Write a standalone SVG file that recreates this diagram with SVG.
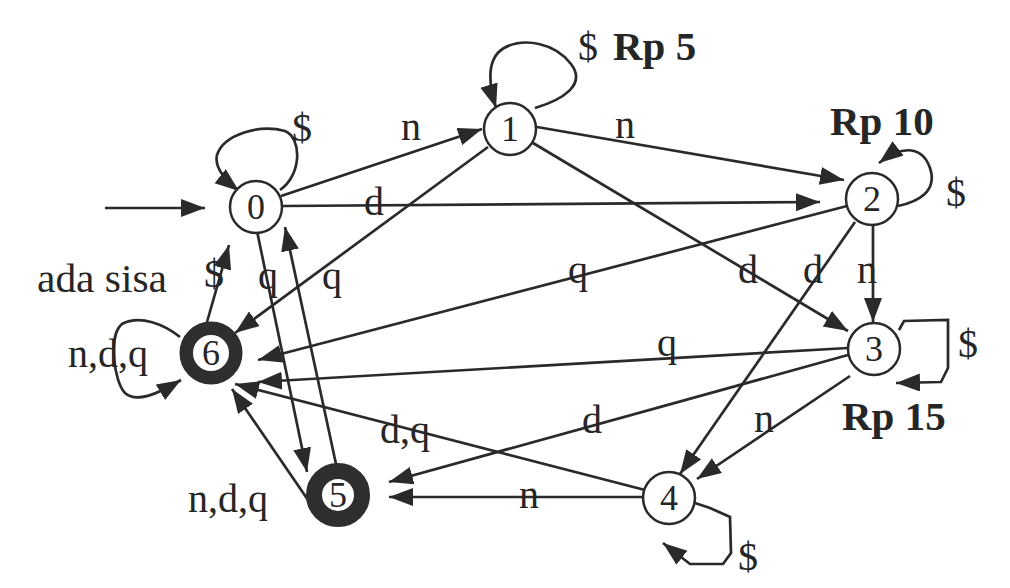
<svg xmlns="http://www.w3.org/2000/svg" width="1010" height="588" viewBox="0 0 1010 588">
<defs>
<marker id="arr" markerUnits="userSpaceOnUse" markerWidth="26" markerHeight="20" refX="24" refY="9" orient="auto">
<path d="M0,0 L24,9 L0,18 z" fill="#2a2a2a"/>
</marker>
<style>
.edge{stroke:#2a2a2a;stroke-width:2.7;fill:none;marker-end:url(#arr)}
.node{fill:#fff;stroke:#2a2a2a;stroke-width:2.5}
.acc6{fill:#fff;stroke:#2e2e2e;stroke-width:13.5}
.acc5{fill:#fff;stroke:#2e2e2e;stroke-width:16}
.num{font-family:"Liberation Serif",serif;font-size:36px;fill:#262626;text-anchor:middle}
.lbl{font-family:"Liberation Serif",serif;font-size:40px;fill:#262626}
.mid{text-anchor:middle}
.bold{font-family:"Liberation Serif",serif;font-size:41px;font-weight:bold;fill:#262626}
</style>
</defs>
<rect width="1010" height="588" fill="#ffffff"/>
<g id="connectors">
<path class="edge" d="M105,208 L205,208"/>
<path class="edge" d="M280,190 C302,175 302,138 285,131 C260,124 224,134 217,155 C214,168 225,180 239,191"/>
<path class="edge" d="M281,196 L482,129"/>
<path class="edge" d="M283,206 L820,202"/>
<path class="edge" d="M535,108 C562,100 587,85 571,64 C555,43 524,37 504,48 C487,58 488,82 496,108"/>
<path class="edge" d="M537,127 L844,180"/>
<path class="edge" d="M533,143 L848,331"/>
<path class="edge" d="M488,147 L235,333"/>
<path class="edge" d="M898,206 C917,202 938,192 930,168 C923,148 905,143 879,163"/>
<path class="edge" d="M847,206 L258,360"/>
<path class="edge" d="M873,225 L873,322"/>
<path class="edge" d="M855,222 L680,474"/>
<path class="edge" d="M899,330 L904,321 L948,320 L948,368 L941,382 L896,383"/>
<path class="edge" d="M848,348 L258,382"/>
<path class="edge" d="M848,355 L389,482"/>
<path class="edge" d="M850,376 L697,479"/>
<path class="edge" d="M695,503 L710,508 L730,517 L731,553 L723,564 L690,564 L663,543"/>
<path class="edge" d="M643,497 L389,497"/>
<path class="edge" d="M645,490 L235,384"/>
<path class="edge" d="M257,231 L307,472"/>
<path class="edge" d="M336,464 L285,227"/>
<path class="edge" d="M207,322 L229,245"/>
<path class="edge" d="M308,500 L232,389"/>
<path class="edge" d="M180,337 C165,325 140,314 122,324 C108,335 114,382 125,393 C136,403 156,395 181,380"/>
<text class="lbl mid" x="302" y="141">$</text>
<text class="lbl mid" x="411" y="140">n</text>
<text class="lbl mid" x="374" y="215">d</text>
<text class="lbl mid" x="588" y="60">$</text>
<text class="bold" x="613" y="60">Rp 5</text>
<text class="lbl mid" x="625" y="138">n</text>
<text class="bold" x="830" y="135">Rp 10</text>
<text class="lbl mid" x="956" y="206">$</text>
<text class="lbl mid" x="748" y="283">d</text>
<text class="lbl mid" x="813" y="283">d</text>
<text class="lbl mid" x="867" y="283">n</text>
<text class="lbl mid" x="578" y="283">q</text>
<text class="lbl mid" x="968" y="357">$</text>
<text class="bold" x="842" y="430">Rp 15</text>
<text class="lbl mid" x="667" y="356">q</text>
<text class="lbl mid" x="592" y="433">d</text>
<text class="lbl mid" x="764" y="432">n</text>
<text class="lbl mid" x="529" y="508">n</text>
<text class="lbl mid" x="748" y="570">$</text>
<text class="lbl" x="380" y="443">d,q</text>
<text class="lbl" x="188" y="512">n,d,q</text>
<text class="lbl" x="68" y="367">n,d,q</text>
<text class="lbl" x="37" y="292" textLength="130" lengthAdjust="spacingAndGlyphs">ada sisa</text>
<text class="lbl mid" x="214" y="287">$</text>
<text class="lbl mid" x="268" y="289">q</text>
<text class="lbl mid" x="332" y="289">q</text>
</g>
<g id="node0"><circle class="node" cx="256" cy="207" r="26"/><text class="num" x="256" y="219">0</text></g>
<g id="node1"><circle class="node" cx="510" cy="129" r="26"/><text class="num" x="510" y="141">1</text></g>
<g id="node2"><circle class="node" cx="872" cy="199" r="26"/><text class="num" x="872" y="211">2</text></g>
<g id="node3"><circle class="node" cx="874" cy="349" r="26"/><text class="num" x="874" y="361">3</text></g>
<g id="node4"><circle class="node" cx="669" cy="498" r="26"/><text class="num" x="669" y="510">4</text></g>
<g id="node5"><circle class="acc5" cx="338" cy="495" r="24"/><text class="num" x="338" y="507">5</text></g>
<g id="node6"><circle class="acc6" cx="211" cy="353" r="24.75"/><text class="num" x="211" y="365">6</text></g>
</svg>
